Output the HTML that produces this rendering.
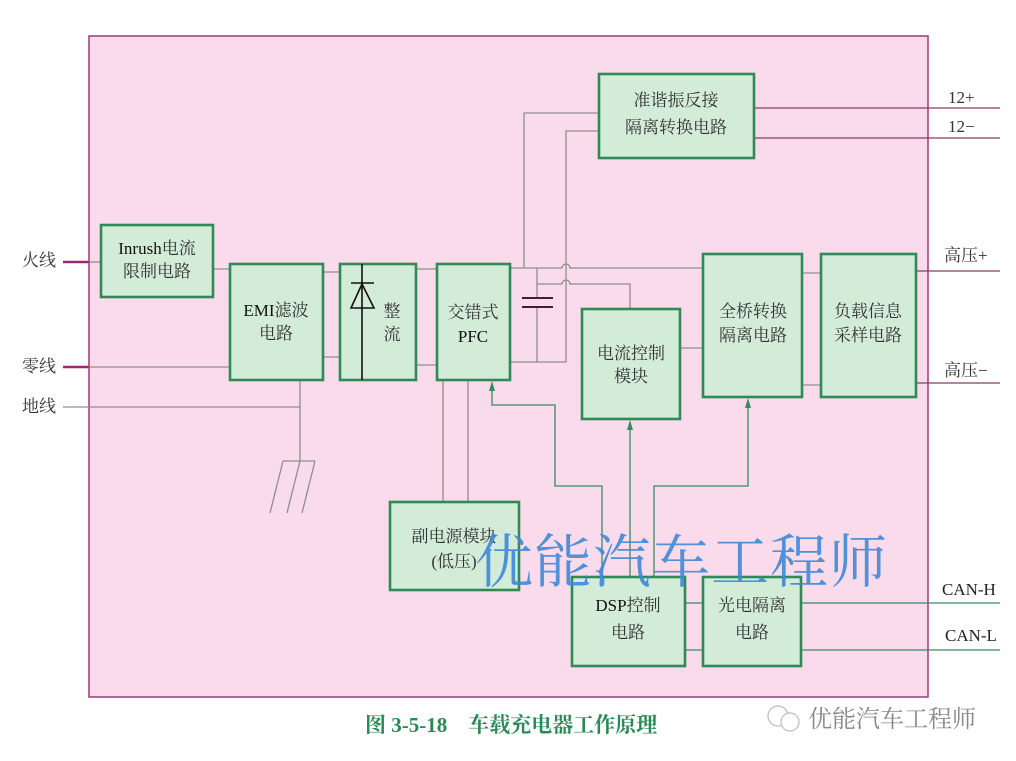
<!DOCTYPE html>
<html><head><meta charset="utf-8"><style>
html,body{margin:0;padding:0;background:#fff;}
svg{display:block;}
text{font-family:"Liberation Serif","Noto Serif CJK SC","Noto Sans CJK SC",serif;}
</style></head><body>
<svg width="1016" height="761" viewBox="0 0 1016 761" xmlns="http://www.w3.org/2000/svg">
<rect x="89" y="36" width="839" height="661" fill="#f9dbeb" stroke="#9a3a78" stroke-width="1.5"/>
<g stroke="#8e8e8e" stroke-width="1.3" fill="none">
<line x1="89" y1="262" x2="101" y2="262"/>
<line x1="89" y1="367" x2="230" y2="367"/>
<line x1="63" y1="407" x2="300" y2="407"/>
<line x1="300" y1="380" x2="300" y2="461"/>
<line x1="283" y1="461" x2="315" y2="461"/>
<line x1="283" y1="461" x2="270" y2="513"/>
<line x1="300" y1="461" x2="287" y2="513"/>
<line x1="315" y1="461" x2="302" y2="513"/>
<line x1="213" y1="269" x2="230" y2="269"/>
<line x1="323" y1="272" x2="340" y2="272"/>
<line x1="323" y1="357" x2="340" y2="357"/>
<line x1="416" y1="269" x2="437" y2="269"/>
<line x1="416" y1="365" x2="437" y2="365"/>
<path d="M510 268 H562 a4 4 0 0 1 8 0 H703"/>
<path d="M537 284 H562 a4 4 0 0 1 8 0 H630 V309"/>
<line x1="537" y1="268" x2="537" y2="298"/>
<line x1="537" y1="307" x2="537" y2="362"/>
<path d="M510 362 H566 V131 H599"/>
<path d="M524 268 V113 H599"/>
<line x1="680" y1="348" x2="703" y2="348"/>
<line x1="802" y1="273" x2="821" y2="273"/>
<line x1="802" y1="385" x2="821" y2="385"/>
<line x1="443" y1="380" x2="443" y2="502"/>
<line x1="468" y1="380" x2="468" y2="502"/>
</g>
<g stroke="#8a3a6a" stroke-width="1.3">
<line x1="754" y1="108" x2="1000" y2="108"/>
<line x1="754" y1="138" x2="1000" y2="138"/>
<line x1="916" y1="271" x2="1000" y2="271"/>
<line x1="916" y1="383" x2="1000" y2="383"/>
</g>
<g stroke="#9a2a72" stroke-width="2.5">
<line x1="63" y1="262" x2="89" y2="262"/>
<line x1="63" y1="367" x2="89" y2="367"/>
</g>
<g stroke="#4a1a30" stroke-width="2">
<line x1="522" y1="298" x2="553" y2="298"/>
<line x1="522" y1="307" x2="553" y2="307"/>
</g>
<g stroke="#3a8a60" stroke-width="1.3" fill="none">
<path d="M602 577 V486 H555 V405 H492 V384"/>
<path d="M630 577 V423"/>
<path d="M654 577 V486 H748 V401"/>
<line x1="685" y1="603" x2="703" y2="603"/>
<line x1="685" y1="650" x2="703" y2="650"/>
<line x1="801" y1="603" x2="1000" y2="603"/>
<line x1="801" y1="650" x2="1000" y2="650"/>
</g>
<g fill="#3a8a60">
<polygon points="492,381 489,391 495,391"/>
<polygon points="630,420 627,430 633,430"/>
<polygon points="748,398 745,408 751,408"/>
</g>
<g fill="#d3ecd8" stroke="#2f8a58" stroke-width="2.6">
<rect x="101" y="225" width="112" height="72"/>
<rect x="230" y="264" width="93" height="116"/>
<rect x="340" y="264" width="76" height="116"/>
<rect x="437" y="264" width="73" height="116"/>
<rect x="599" y="74" width="155" height="84"/>
<rect x="582" y="309" width="98" height="110"/>
<rect x="703" y="254" width="99" height="143"/>
<rect x="821" y="254" width="95" height="143"/>
<rect x="390" y="502" width="129" height="88"/>
<rect x="572" y="577" width="113" height="89"/>
<rect x="703" y="577" width="98" height="89"/>
</g>
<g stroke="#111" stroke-width="1.6" fill="none">
<line x1="362" y1="264" x2="362" y2="380"/>
<line x1="351" y1="283" x2="374" y2="283"/>
<polygon points="362,284 351,308 374,308"/>
</g>
<g font-size="17" fill="#333" text-anchor="middle">
<text x="157" y="254"><tspan fill="#111">Inrush</tspan>电流</text>
<text x="157" y="277">限制电路</text>
<text x="276" y="316"><tspan fill="#111">EMI</tspan>滤波</text>
<text x="276" y="339">电路</text>
<text x="392" y="317">整</text>
<text x="392" y="340">流</text>
<text x="473" y="318">交错式</text>
<text x="473" y="342" fill="#111">PFC</text>
<text x="676" y="106">准谐振反接</text>
<text x="676" y="133">隔离转换电路</text>
<text x="631" y="359">电流控制</text>
<text x="631" y="382">模块</text>
<text x="753" y="317">全桥转换</text>
<text x="753" y="341">隔离电路</text>
<text x="868" y="317">负载信息</text>
<text x="868" y="341">采样电路</text>
<text x="454" y="542">副电源模块</text>
<text x="454" y="567">(低压)</text>
<text x="628" y="611"><tspan fill="#111">DSP</tspan>控制</text>
<text x="628" y="638">电路</text>
<text x="752" y="611">光电隔离</text>
<text x="752" y="638">电路</text>
</g>
<g font-size="17" fill="#333">
<text x="22" y="266">火线</text>
<text x="22" y="372">零线</text>
<text x="22" y="412">地线</text>
<text x="948" y="103">12+</text>
<text x="948" y="132">12−</text>
<text x="944" y="261">高压+</text>
<text x="944" y="376">高压−</text>
<text x="942" y="595" fill="#222">CAN-H</text>
<text x="945" y="641" fill="#222">CAN-L</text>
</g>
<text x="475" y="582" font-size="58" fill="#3d88d8" fill-opacity="0.9" font-family="'Noto Sans CJK SC',sans-serif" letter-spacing="1">优能汽车工程师</text>
<text x="365" y="732" font-size="21" font-weight="bold" fill="#2a8a55" font-family="'Liberation Serif','Noto Sans CJK SC',serif">图 3-5-18　车载充电器工作原理</text>
<circle cx="778" cy="716" r="10" fill="none" stroke="#bbb" stroke-width="1.2"/>
<circle cx="790" cy="722" r="9" fill="#fff" stroke="#bbb" stroke-width="1.2"/>
<text x="808" y="727" font-size="24" fill="#888" font-family="'Noto Sans CJK SC',sans-serif">优能汽车工程师</text>
</svg>
</body></html>
